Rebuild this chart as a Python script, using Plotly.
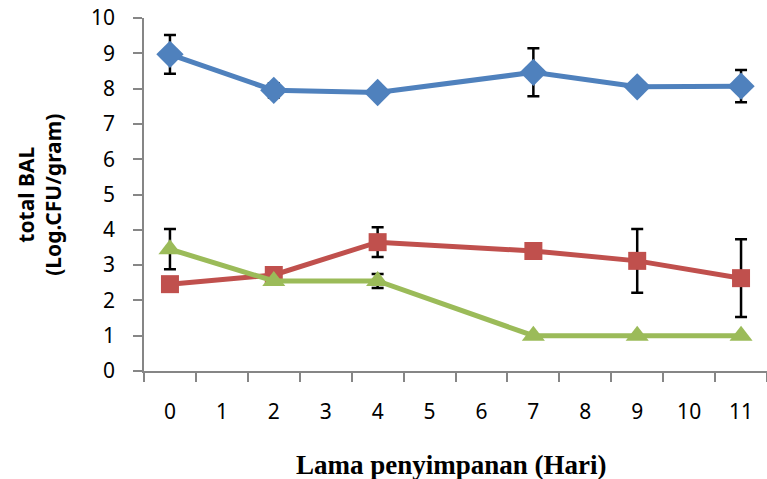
import plotly.graph_objects as go

categories = [str(i) for i in range(12)]
days = ["0", "2", "4", "7", "9", "11"]

blue_vals = [8.97, 7.95, 7.89, 8.46, 8.05, 8.07]
blue_err = [0.55, 0.2, None, 0.68, None, 0.46]

red_vals = [2.46, 2.72, 3.65, 3.40, 3.12, 2.63]
red_err = [None, None, 0.42, None, 0.9, 1.1]

green_vals = [3.45, 2.55, 2.55, 1.0, 1.0, 1.0]
green_err = [0.57, None, 0.2, None, None, None]

series = [
    ("A", blue_vals, blue_err, "#4F81BD", "diamond", 21),
    ("B", red_vals, red_err, "#C0504D", "square", 18),
    ("C", green_vals, green_err, "#9BBB59", "triangle-up", 20),
]

fig = go.Figure()
for name, vals, err, color, sym, size in series:
    fig.add_trace(go.Scatter(
        x=days, y=vals, name=name, mode="lines+markers",
        line=dict(color=color, width=5),
        marker=dict(symbol=sym, size=size, color=color),
        error_y=dict(type="data", array=err, visible=True,
                     color="black", thickness=2.5, width=6),
    ))

axis_font = dict(family="Noto Sans, Open Sans, sans-serif", size=21, color="black")

fig.update_layout(
    width=767, height=479,
    margin=dict(l=144, r=0, t=18, b=108),
    paper_bgcolor="white", plot_bgcolor="white",
    showlegend=False,
    xaxis=dict(
        type="category", categoryorder="array", categoryarray=categories,
        range=[-0.5, 11.5], tickson="boundaries", automargin=False,
        ticks="outside", ticklen=9, tickwidth=1.5, tickcolor="#868686",
        showline=True, linecolor="#868686", linewidth=1.5,
        showgrid=False, zeroline=False, tickfont=axis_font,
        ticklabelstandoff=21,
    ),
    yaxis=dict(
        range=[0, 10], tickvals=list(range(11)), automargin=False,
        ticks="outside", ticklen=9, tickwidth=1.5, tickcolor="#868686",
        showline=True, linecolor="#868686", linewidth=1.5,
        showgrid=False, zeroline=False, tickfont=axis_font,
        ticklabelstandoff=14, ticklabeloverflow="allow",
    ),
    annotations=[
        dict(text="<b>total BAL<br>(Log.CFU/gram)</b>", xref="paper", yref="paper",
             x=-0.168, y=0.5, xanchor="center", yanchor="middle", textangle=-90,
             showarrow=False,
             font=dict(family="Noto Sans, Open Sans, sans-serif", size=21, color="black")),
        dict(text="<b>Lama penyimpanan (Hari)</b>", xref="paper", yref="paper",
             x=0.494, y=-0.266, xanchor="center", yanchor="middle", showarrow=False,
             font=dict(family="Liberation Serif, Times New Roman, serif", size=27, color="black")),
    ],
)

fig.write_html("out.html", config={"displayModeBar": False},
               post_script="document.body.style.margin='0';")
